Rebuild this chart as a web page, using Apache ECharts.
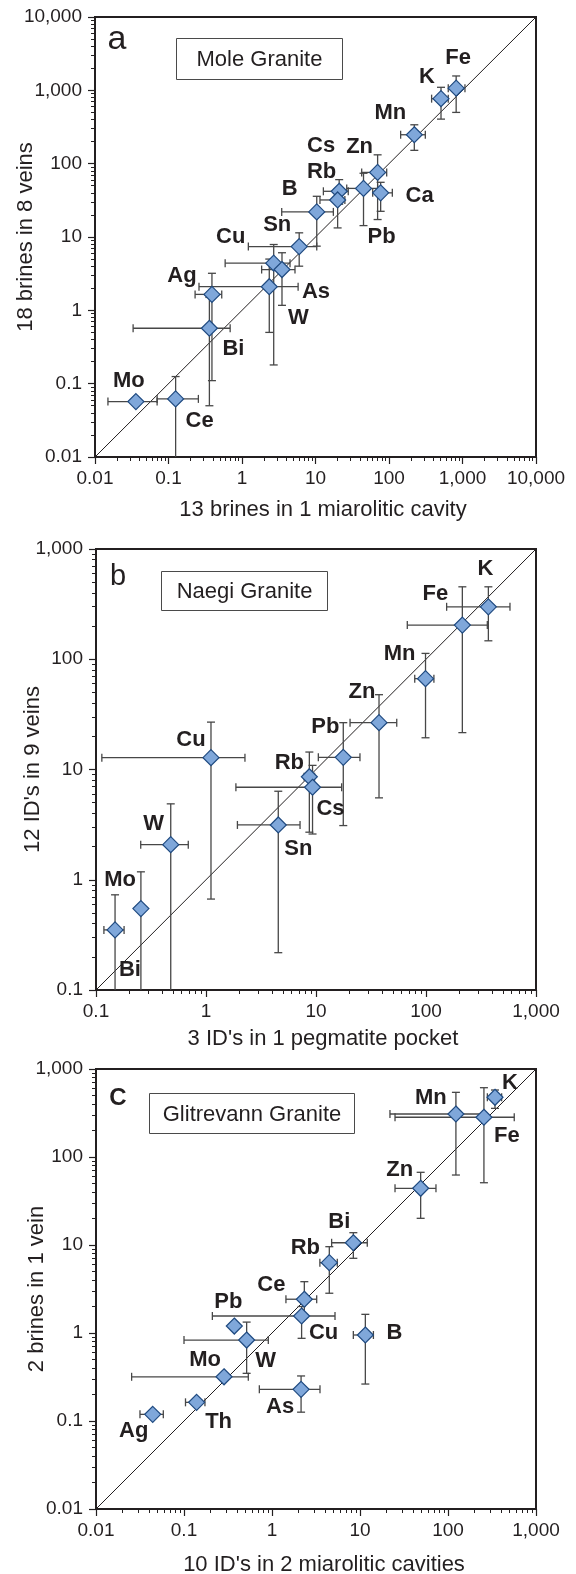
<!DOCTYPE html>
<html>
<head>
<meta charset="utf-8">
<script src="https://cdn.jsdelivr.net/npm/echarts@6/dist/echarts.min.js"></script>
<style>
  html, body { margin: 0; padding: 0; background: #ffffff; }
  #chart { width: 576px; height: 1574px; }
</style>
</head>
<body>
<div id="chart"></div>
<script>
// ---- Panel a: Mole Granite (13 brines in 1 miarolitic cavity vs 18 brines in 8 veins)
const elementsA = ['Fe', 'K', 'Mn', 'Zn', 'Ca', 'Pb', 'Cs', 'Rb', 'B', 'Sn', 'Cu', 'As', 'W', 'Ag', 'Bi', 'Mo', 'Ce'];
const xA     = [820, 510, 221, 70, 77, 45, 21, 20, 10.4, 6.0, 2.7, 3.5, 2.35, 0.39, 0.36, 0.036, 0.125];
const yA     = [1070, 770, 248, 76, 40, 46, 42, 32, 22, 7.4, 4.4, 3.6, 2.1, 1.65, 0.57, 0.057, 0.062];
const xLowA  = [640, 380, 144, 42.5, 60, 26.6, 12.8, 11.5, 3.47, 1.22, 0.59, 1.85, 0.26, 0.23, 0.033, 0.015, 0.07];
const xHighA = [1080, 640, 312, 93, 111, 70, 27.9, 25.1, 17.5, 10.4, 4.5, 5.26, 5.8, 0.53, 0.69, 0.07, 0.255];
const yLowA  = [500, 405, 152, 17.3, 22.4, 14.3, 28, 13.3, 7.5, 4, 0.18, 1.17, 0.5, 0.11, 0.05, null, 0.005];
const yHighA = [1570, 1100, 339, 132, 55.7, 74, 60.6, 45, 35.9, 11.4, 7.9, 6.1, 5, 3.2, 1.5, null, 0.125];

// ---- Panel b: Naegi Granite (3 ID's in 1 pegmatite pocket vs 12 ID's in 9 veins)
const elementsB = ['K', 'Fe', 'Mn', 'Zn', 'Pb', 'Rb', 'Cs', 'Sn', 'Cu', 'W', 'Mo', 'Bi'];
const xB     = [369, 214, 99, 37.4, 17.7, 8.7, 9.3, 4.54, 1.11, 0.478, 0.149, 0.256];
const yB     = [299, 204, 66.7, 26.6, 12.9, 8.6, 6.9, 3.14, 12.8, 2.08, 0.351, 0.548];
const xLowB  = [154, 67.6, 79, 20.4, 10.5, 7.8, 1.87, 1.93, 0.113, 0.255, 0.118, null];
const xHighB = [580, 361, 118, 54.2, 25.1, 9.7, 17.1, 7.16, 2.26, 0.69, 0.18, null];
const yLowB  = [147, 21.6, 19.4, 5.53, 3.1, 2.7, 2.6, 0.218, 0.668, 0.05, 0.05, 0.05];
const yHighB = [454, 454, 113, 47.7, 26.6, 14.4, 10.9, 6.35, 26.9, 4.88, 0.73, 1.18];

// ---- Panel c: Glitrevann Granite (10 ID's in 2 miarolitic cavities vs 2 brines in 1 vein)
const elementsC = ['K', 'Fe', 'Mn', 'Zn', 'Bi', 'Rb', 'Ce', 'Cu', 'B', 'As', 'Pb', 'W', 'Mo', 'Th', 'Ag'];
const xC     = [342, 256, 123, 48.9, 8.4, 4.48, 2.33, 2.17, 11.5, 2.14, 0.373, 0.515, 0.285, 0.139, 0.0441];
const yC     = [477, 283, 308, 44.1, 10.6, 6.3, 2.42, 1.56, 0.949, 0.229, 1.2, 0.832, 0.318, 0.163, 0.119];
const xLowC  = [280, 25, 21.9, 25, 4.76, 3.5, 1.44, 0.21, 8.4, 0.718, null, 0.1, 0.0254, 0.104, 0.0316];
const xHighC = [407, 566, 250, 73, 12.1, 5.52, 3.22, 5.2, 14.2, 3.51, null, 0.908, 0.538, 0.173, 0.0582];
const yLowC  = [357, 51, 62.4, 20.1, 7.06, 2.83, 1.5, 0.87, 0.263, 0.126, null, 0.348, null, null, null];
const yHighC = [577, 613, 543, 67, 13.8, 9.57, 3.83, 2.0, 1.63, 0.325, null, 1.33, null, null, null];

// Axis tick values (decades) and axis titles
const ticksA = [0.01, 0.1, 1, 10, 100, 1000, 10000];
const ticksB = [0.1, 1, 10, 100, 1000];
const ticksC = [0.01, 0.1, 1, 10, 100, 1000];
const xTitles = ['13 brines in 1 miarolitic cavity', "3 ID's in 1 pegmatite pocket", "10 ID's in 2 miarolitic cavities"];
const yTitles = ['18 brines in 8 veins', "12 ID's in 9 veins", '2 brines in 1 vein'];
const panelTitles = ['Mole Granite', 'Naegi Granite', 'Glitrevann Granite'];
const panelLetters = ['a', 'b', 'C'];

// Label placement (pixel offset of each element symbol from its diamond)
const labelShiftA = {
  Fe: [2, -30], K: [-14, -22], Mn: [-24, -22], Zn: [-18, -25], Ca: [39, 3], Pb: [18, 49],
  Cs: [-18, -45], Rb: [-16, -28], B: [-27, -23], Sn: [-22, -22], Cu: [-43, -26], As: [34, 22],
  W: [29, 31], Ag: [-30, -18], Bi: [24, 21], Mo: [-7, -21], Ce: [24, 22]
};
const labelShiftB = {
  K: [-3, -38], Fe: [-27, -31], Mn: [-26, -25], Zn: [-17, -31], Pb: [-18, -30], Rb: [-20, -14],
  Cs: [18, 22], Sn: [20, 24], Cu: [-20, -18], W: [-17, -21], Mo: [5, -50], Bi: [-11, 61]
};
const labelShiftC = {
  K: [15, -14], Fe: [23, 19], Mn: [-25, -16], Zn: [-21, -18], Bi: [-14, -21], Rb: [-24, -15],
  Ce: [-33, -14], Cu: [22, 17], B: [29, -2], As: [-21, 18], Pb: [-6, -24], W: [19, 21],
  Mo: [-19, -17], Th: [22, 20], Ag: [-19, 17]
};

const INK = '#231f20';
const FONT = '"Liberation Sans", Arial, Helvetica, sans-serif';

const panels = [
  { els: elementsA, x: xA, y: yA, xl: xLowA, xh: xHighA, yl: yLowA, yh: yHighA, ticks: ticksA, shift: labelShiftA,
    grid: { left: 95, top: 17, width: 441, height: 440 }, xGap: 42, yGap: 58, xPad: 15,
    letter: { x: 117, y: 40, size: 34, weight: 'normal' }, box: { x: 176.5, y: 38.5, w: 166, h: 41 } },
  { els: elementsB, x: xB, y: yB, xl: xLowB, xh: xHighB, yl: yLowB, yh: yHighB, ticks: ticksB, shift: labelShiftB,
    grid: { left: 96, top: 549, width: 440, height: 441 }, xGap: 38, yGap: 52, xPad: 14,
    letter: { x: 118, y: 577, size: 29, weight: 'normal' }, box: { x: 161.5, y: 571.5, w: 166, h: 39 } },
  { els: elementsC, x: xC, y: yC, xl: xLowC, xh: xHighC, yl: yLowC, yh: yHighC, ticks: ticksC, shift: labelShiftC,
    grid: { left: 96, top: 1069, width: 440, height: 440 }, xGap: 45, yGap: 48, xPad: 16,
    letter: { x: 118, y: 1098, size: 24, weight: 'bold' }, box: { x: 149.5, y: 1093.5, w: 205, h: 40 } }
];

function tickText(v) {
  const n = +(+v).toPrecision(6);
  return n >= 1000 ? n.toLocaleString('en-US') : String(n);
}

// Horizontal / vertical error bars with end caps
function makeBarRenderer(horizontal) {
  return function (params, api) {
    const x = api.value(0), y = api.value(1), lo = api.value(2), hi = api.value(3);
    const a = horizontal ? api.coord([lo, y]) : api.coord([x, lo]);
    const b = horizontal ? api.coord([hi, y]) : api.coord([x, hi]);
    const cap = 4;
    const style = { stroke: '#474747', lineWidth: 1.3 };
    const seg = (x1, y1, x2, y2) => ({ type: 'line', shape: { x1, y1, x2, y2 }, style });
    const children = [seg(a[0], a[1], b[0], b[1])];
    if (horizontal) {
      children.push(seg(a[0], a[1] - cap, a[0], a[1] + cap));
      children.push(seg(b[0], b[1] - cap, b[0], b[1] + cap));
    } else {
      children.push(seg(a[0] - cap, a[1], a[0] + cap, a[1]));
      children.push(seg(b[0] - cap, b[1], b[0] + cap, b[1]));
    }
    return { type: 'group', children };
  };
}

const grid = [], xAxis = [], yAxis = [], series = [], graphic = [];

panels.forEach((p, i) => {
  const lo = p.ticks[0], hi = p.ticks[p.ticks.length - 1];
  const decades = p.ticks.length - 1;
  grid.push(Object.assign({
    show: true, borderColor: INK, borderWidth: 2, backgroundColor: '#fff',
    containLabel: false, outerBoundsMode: 'none'
  }, p.grid));

  const axisCommon = {
    type: 'log', logBase: 10, min: lo, max: hi, splitNumber: decades,
    axisLine: { show: true, lineStyle: { color: INK, width: 2 } },
    axisTick: { show: true, length: 7, lineStyle: { color: INK, width: 1.2 } },
    minorTick: { show: true, splitNumber: 9, length: 4, lineStyle: { color: INK, width: 1 } },
    splitLine: { show: false },
    axisLabel: { color: INK, fontSize: 19, fontFamily: FONT, formatter: tickText },
    nameLocation: 'middle',
    nameMoveOverlap: false,
    nameTextStyle: { color: INK, fontSize: 22, fontFamily: FONT }
  };
  xAxis.push(Object.assign({}, axisCommon, {
    gridIndex: i, name: xTitles[i], nameGap: p.xGap,
    nameTextStyle: Object.assign({}, axisCommon.nameTextStyle, { padding: [0, 0, 0, p.xPad] }),
    axisLabel: Object.assign({}, axisCommon.axisLabel, { margin: 12 })
  }));
  yAxis.push(Object.assign({}, axisCommon, {
    gridIndex: i, name: yTitles[i], nameGap: p.yGap, nameRotate: 90,
    axisLabel: Object.assign({}, axisCommon.axisLabel, { margin: 13 })
  }));

  // 1:1 reference line
  series.push({
    type: 'line', xAxisIndex: i, yAxisIndex: i, data: [[lo, lo], [hi, hi]],
    symbol: 'none', silent: true, z: 1,
    lineStyle: { color: INK, width: 1 }
  });

  const hBars = [], vBars = [], pts = [];
  p.els.forEach((el, k) => {
    if (p.xl[k] != null) hBars.push([p.x[k], p.y[k], p.xl[k], p.xh[k]]);
    if (p.yl[k] != null) vBars.push([p.x[k], p.y[k], p.yl[k], p.yh[k]]);
    pts.push({ name: el, value: [p.x[k], p.y[k]] });
  });

  series.push({
    type: 'custom', xAxisIndex: i, yAxisIndex: i, data: vBars, clip: true, silent: true, z: 2,
    renderItem: makeBarRenderer(false)
  });
  series.push({
    type: 'custom', xAxisIndex: i, yAxisIndex: i, data: hBars, clip: true, silent: true, z: 2,
    renderItem: makeBarRenderer(true)
  });
  const shift = p.shift, names = p.els;
  series.push({
    type: 'scatter', xAxisIndex: i, yAxisIndex: i, data: pts, z: 3,
    symbol: 'diamond', symbolSize: 16,
    itemStyle: { color: '#7fa7da', borderColor: '#1f4a80', borderWidth: 1.2, opacity: 1 },
    label: {
      show: true, position: 'inside', formatter: '{b}',
      color: INK, fontSize: 22, fontWeight: 'bold', fontFamily: FONT
    },
    labelLayout: function (params) {
      const d = shift[names[params.dataIndex]] || [0, 0];
      return { dx: d[0], dy: d[1], hideOverlap: false, moveOverlap: null };
    },
    emphasis: { disabled: true }
  });

  // Panel letter and title box
  graphic.push({
    type: 'text', x: p.letter.x, y: p.letter.y, z: 10,
    style: { text: panelLetters[i], fill: INK, font: p.letter.weight + ' ' + p.letter.size + 'px ' + FONT,
             textAlign: 'center', textVerticalAlign: 'middle' }
  });
  graphic.push({
    type: 'rect', x: p.box.x, y: p.box.y, z: 10,
    shape: { width: p.box.w, height: p.box.h },
    style: { fill: '#fff', stroke: '#4a4a4a', lineWidth: 1 }
  });
  graphic.push({
    type: 'text', x: p.box.x + p.box.w / 2, y: p.box.y + p.box.h / 2 + 1, z: 11,
    style: { text: panelTitles[i], fill: INK, font: 'normal 22px ' + FONT,
             textAlign: 'center', textVerticalAlign: 'middle' }
  });
});

const chart = echarts.init(document.getElementById('chart'), null, { renderer: 'canvas' });
chart.setOption({
  animation: false,
  backgroundColor: '#ffffff',
  grid, xAxis, yAxis, series, graphic
});
</script>
</body>
</html>
